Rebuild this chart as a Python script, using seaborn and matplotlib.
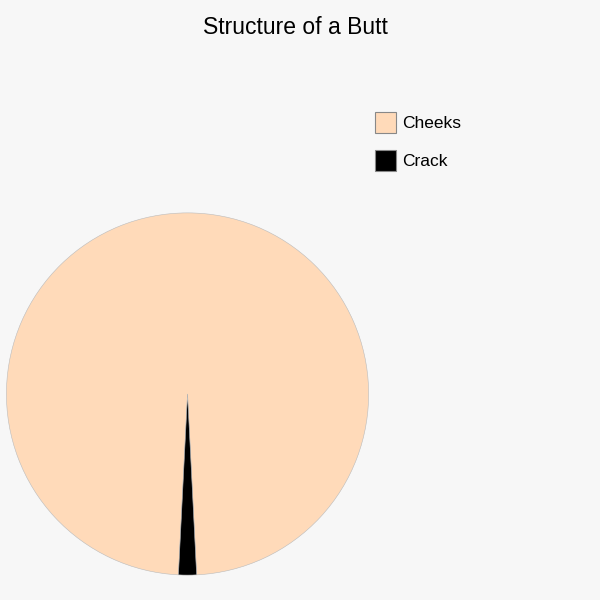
import matplotlib
matplotlib.use("Agg")
import matplotlib.pyplot as plt
import seaborn as sns
from matplotlib.patches import Patch

labels = ["Cheeks", "Crack"]
values = [98.4, 1.6]
colors = ["#FFDAB9", "#000000"]

sns.set_style("white")
plt.rcParams['font.family'] = ['Liberation Sans', 'DejaVu Sans']
plt.rcParams['text.color'] = 'black'

fig = plt.figure(figsize=(6, 6), dpi=100, facecolor="#f7f7f7")
ax = fig.add_axes([0.0092, 0.04, 0.6067, 0.6067])
ax.set_facecolor("#f7f7f7")

# crack wedge centered straight down
crack_deg = values[1] / sum(values) * 360
start = -90 + crack_deg / 2
ax.pie(values, colors=colors, startangle=start, counterclock=True, radius=1,
       wedgeprops={"edgecolor": "#bbbbbb", "linewidth": 0.4})
ax.set_xlim(-1.005, 1.005)
ax.set_ylim(-1.005, 1.005)
ax.set_aspect("equal")
ax.axis("off")

fig.text(0.493, 0.955, "Structure of a Butt", ha="center", va="center",
         fontsize=16.5, color="black")

handles = [Patch(facecolor=c, edgecolor="#888888", linewidth=0.8) for c in colors]
fig.legend(handles, labels, loc="upper left", bbox_to_anchor=(0.614, 0.825),
           frameon=False, fontsize=12.5, handlelength=1.2, handleheight=1.45,
           handletextpad=0.35, labelspacing=1.0, borderaxespad=0,
           labelcolor="black")

fig.savefig("out.png", dpi=100, facecolor=fig.get_facecolor())
